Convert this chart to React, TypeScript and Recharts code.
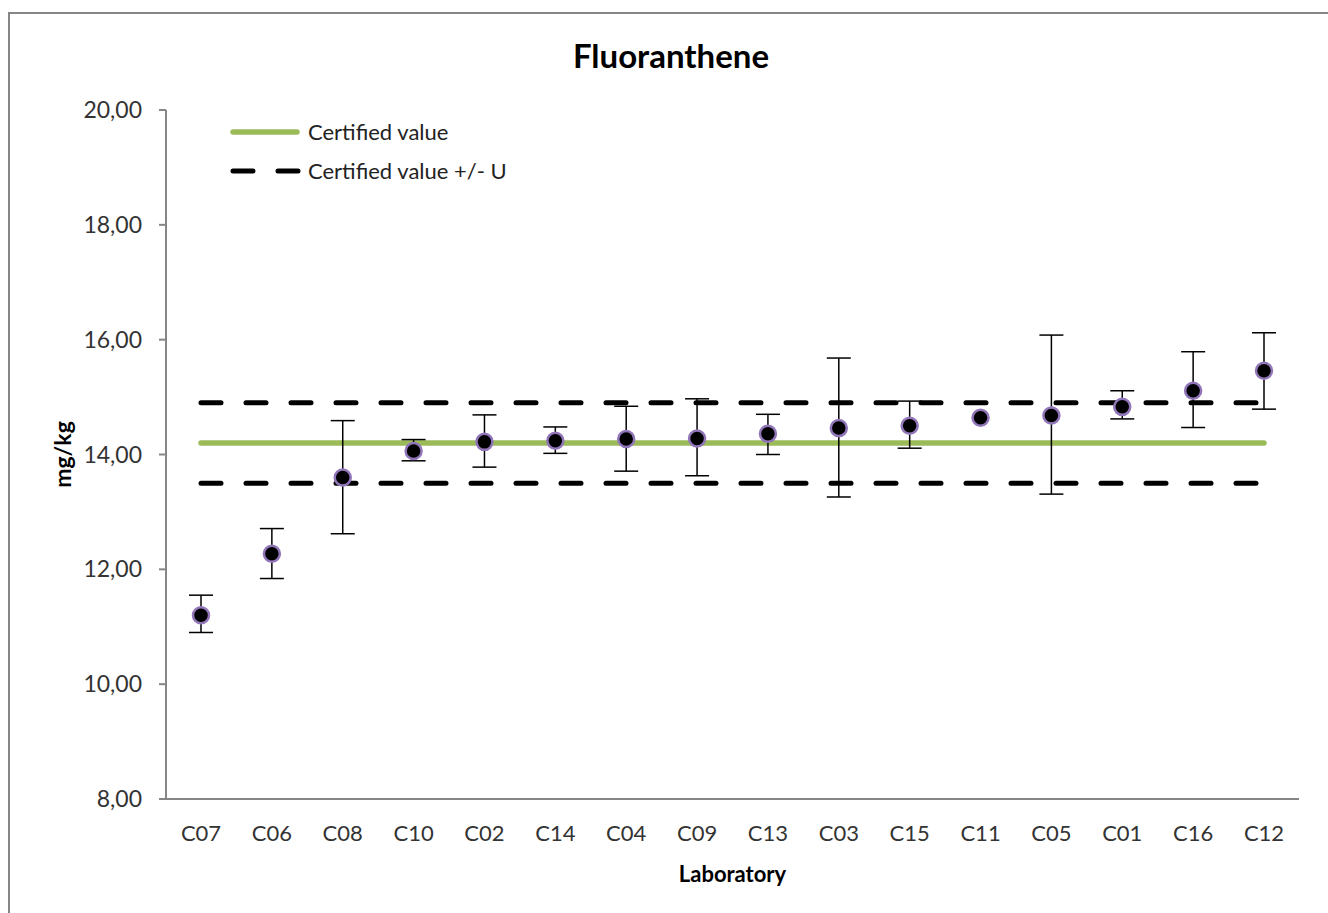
import React from "react";
import { ComposedChart, Line, XAxis, YAxis, ErrorBar, Legend } from "recharts";

const LABS = ["C07", "C06", "C08", "C10", "C02", "C14", "C04", "C09", "C13", "C03", "C15", "C11", "C05", "C01", "C16", "C12"];
const MEANS = [11.2, 12.27, 13.6, 14.06, 14.22, 14.24, 14.27, 14.28, 14.36, 14.46, 14.5, 14.64, 14.68, 14.83, 15.11, 15.46];
// C11 has no error bar in the source chart
const LOWS = [10.9, 11.84, 12.62, 13.89, 13.78, 14.02, 13.71, 13.63, 14.0, 13.26, 14.11, null, 13.31, 14.62, 14.47, 14.79];
const HIGHS = [11.55, 12.71, 14.59, 14.26, 14.69, 14.48, 14.84, 14.97, 14.7, 15.68, 14.93, null, 16.08, 15.11, 15.79, 16.12];
const CERTIFIED = 14.2;
const U = 0.7;
const Y_TICKS = [8, 10, 12, 14, 16, 18, 20];

const data = LABS.map((lab, i) => {
  const lo = LOWS[i];
  const hi = HIGHS[i];
  return {
    lab,
    mean: MEANS[i],
    err: lo == null || hi == null ? undefined : [MEANS[i] - lo, hi - MEANS[i]],
    cert: CERTIFIED,
    upper: CERTIFIED + U,
    lower: CERTIFIED - U,
  };
});

const FONT = "Lato, 'Open Sans', sans-serif";
const GREEN = "#9BBB59";
const AXIS = "#868686";

const fmt = (v: number) => v.toFixed(2).replace(".", ",");

const Marker = (props: any) => {
  const { cx, cy } = props;
  if (cx == null || cy == null) return null;
  return <circle cx={cx} cy={cy} r={8} fill="#000" stroke="#9276ba" strokeWidth={2.5} />;
};

const LegendBox = (props: any) => {
  const items = (props.payload || []).filter((p: any) => p.dataKey === "cert" || p.dataKey === "upper");
  return (
    <div style={{ fontFamily: FONT, fontSize: 22, color: "#222" }}>
      {items.map((p: any) => (
        <div key={p.dataKey} style={{ display: "flex", alignItems: "center", height: 39 }}>
          <svg width={78} height={12}>
            {p.dataKey === "cert" ? (
              <line x1={3} y1={6} x2={67} y2={6} stroke={GREEN} strokeWidth={5.5} strokeLinecap="round" />
            ) : (
              <line x1={3} y1={6} x2={70} y2={6} stroke="#000" strokeWidth={5} strokeLinecap="round" strokeDasharray="20 25" />
            )}
          </svg>
          <span>{p.value}</span>
        </div>
      ))}
    </div>
  );
};

export default function App() {
  return (
    <div style={{ position: "absolute", left: 8, top: 12, width: 1320, height: 901, borderTop: `2px solid ${AXIS}`, borderLeft: `2px solid ${AXIS}`, boxSizing: "border-box", background: "#fff" }}>
      <div style={{ position: "absolute", left: 361, top: 25, width: 600, textAlign: "center", fontFamily: FONT, fontWeight: 700, fontSize: 33, lineHeight: "33px", color: "#000" }}>
        Fluoranthene
      </div>
      <div style={{ position: "absolute", left: -2, top: -2 }}>
        <ComposedChart width={1320} height={901} data={data} margin={{ top: 98, right: 29, bottom: 54, left: 0 }}>
          <XAxis
            dataKey="lab"
            type="category"
            height={60}
            padding={{ left: 35, right: 35 }}
            tickLine={false}
            tickSize={0}
            tickMargin={26}
            axisLine={{ stroke: AXIS, strokeWidth: 2 }}
            tick={{ fontFamily: FONT, fontSize: 22, fill: "#333" }}
            interval={0}
            label={{ value: "Laboratory", position: "bottom", offset: 7, fontFamily: FONT, fontSize: 22, fontWeight: 700, fill: "#000" }}
          />
          <YAxis
            type="number"
            domain={[8, 20]}
            ticks={Y_TICKS}
            tickFormatter={fmt}
            width={158}
            tickSize={7}
            tickMargin={17}
            axisLine={{ stroke: AXIS, strokeWidth: 2 }}
            tickLine={{ stroke: AXIS, strokeWidth: 2 }}
            tick={{ fontFamily: FONT, fontSize: 23, fill: "#333" }}
            label={{ value: "mg/kg", angle: -90, position: "center", dx: -24, fontFamily: FONT, fontSize: 23, fontWeight: 700, fill: "#000" }}
          />
          <Legend
            layout="vertical"
            align="center"
            verticalAlign="middle"
            wrapperStyle={{ left: 222, top: 100, width: 340 }}
            content={<LegendBox />}
          />
          <Line dataKey="cert" name="Certified value" stroke={GREEN} strokeWidth={5.5} strokeLinecap="round" dot={false} activeDot={false} isAnimationActive={false} />
          <Line dataKey="upper" name="Certified value +/- U" stroke="#000" strokeWidth={5} strokeLinecap="round" strokeDasharray="20 25" dot={false} activeDot={false} isAnimationActive={false} />
          <Line dataKey="lower" name="lower" legendType="none" stroke="#000" strokeWidth={5} strokeLinecap="round" strokeDasharray="20 25" dot={false} activeDot={false} isAnimationActive={false} />
          <Line dataKey="mean" name="Uncertainty" legendType="none" stroke="none" strokeWidth={0} dot={false} activeDot={false} isAnimationActive={false}>
            <ErrorBar dataKey="err" direction="y" width={12} stroke="#000" strokeWidth={1.5} />
          </Line>
          <Line dataKey="mean" name="Laboratory mean" legendType="none" stroke="none" strokeWidth={0} dot={<Marker />} activeDot={false} isAnimationActive={false} />
        </ComposedChart>
      </div>
    </div>
  );
}
